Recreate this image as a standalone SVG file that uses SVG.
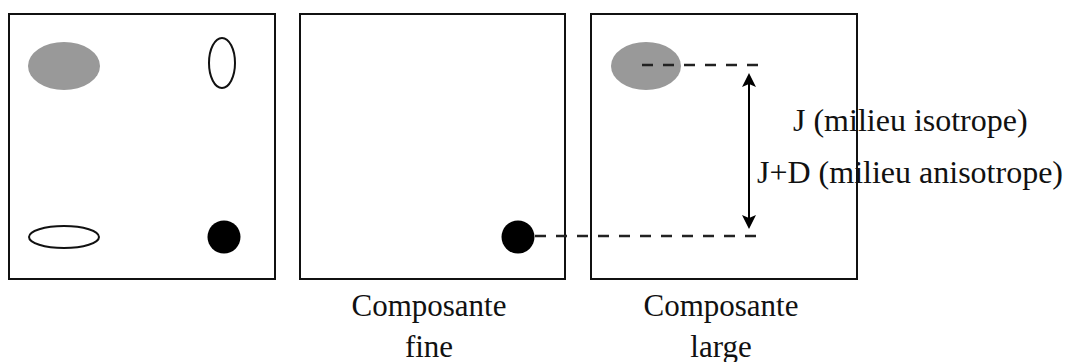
<svg xmlns="http://www.w3.org/2000/svg" width="1066" height="362" viewBox="0 0 1066 362">
<style>
.box{fill:none;stroke:#111;stroke-width:2}
.gray{fill:#999}
.open{fill:none;stroke:#111;stroke-width:2}
.dot{fill:#000}
.dash{stroke:#222;stroke-width:2.5;stroke-dasharray:11 10;fill:none}
.lbl{font-family:"Liberation Serif","Times New Roman",serif;font-size:31px;fill:#111}
</style>
<rect width="1066" height="362" fill="#fff"/>
<g id="panel1">
<rect class="box" x="9" y="14" width="266" height="265"/>
<ellipse class="gray" cx="64" cy="66" rx="36" ry="24"/>
<ellipse class="open" cx="222" cy="63" rx="13" ry="25"/>
<ellipse class="open" cx="64" cy="237" rx="35" ry="11"/>
<circle class="dot" cx="224" cy="237" r="16.5"/>
</g>
<g id="panel2">
<rect class="box" x="300" y="14" width="265" height="265"/>
<circle class="dot" cx="518" cy="237" r="16.5"/>
<text class="lbl" x="429" y="316" text-anchor="middle">Composante</text>
<text class="lbl" x="429" y="357" text-anchor="middle">fine</text>
</g>
<g id="panel3">
<rect class="box" x="591" y="14" width="266" height="265"/>
<ellipse class="gray" cx="646" cy="66" rx="35" ry="24"/>
<text class="lbl" x="721" y="316" text-anchor="middle">Composante</text>
<text class="lbl" x="721" y="357" text-anchor="middle">large</text>
</g>
<g id="connectors">
<line class="dash" x1="642" y1="65" x2="762" y2="65"/>
<line class="dash" x1="535" y1="236" x2="762" y2="236"/>
<line x1="749" y1="80" x2="749" y2="222" stroke="#000" stroke-width="2"/>
<polygon points="749,73 742,87 749,84 756,87" fill="#000"/>
<polygon points="749,229 742,215 749,218 756,215" fill="#000"/>
</g>
<g id="labels">
<text class="lbl" x="793" y="131" style="font-size:32px">J (milieu isotrope)</text>
<text class="lbl" x="757" y="183" style="font-size:32px">J+D (milieu anisotrope)</text>
</g>
</svg>
